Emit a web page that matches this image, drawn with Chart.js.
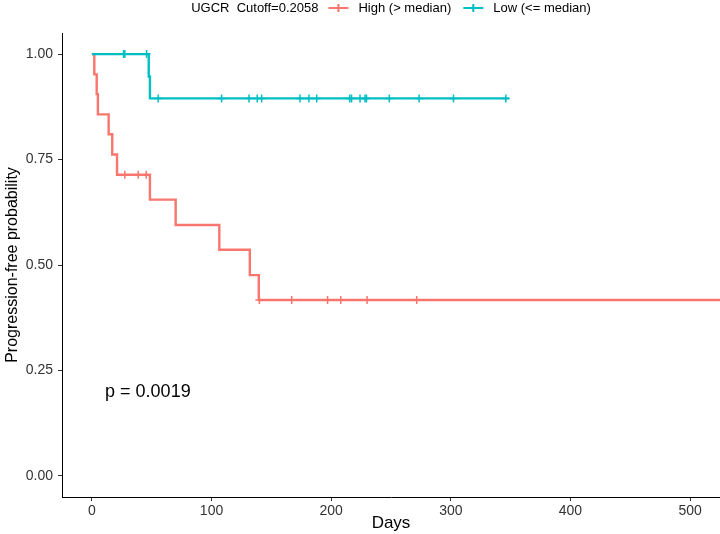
<!DOCTYPE html>
<html>
<head>
<meta charset="utf-8">
<script src="https://cdn.jsdelivr.net/npm/chart.js@4.4.0/dist/chart.umd.min.js"></script>
<style>
  html, body { margin: 0; padding: 0; background: #fff; }
  #wrap { width: 720px; height: 534px; }
</style>
</head>
<body>
<div id="wrap"><canvas id="km"></canvas></div>
<script>
// Kaplan-Meier steps (days, survival after the step)
const highTimes = [0, 2, 4, 5, 14, 17, 21, 48.5, 70, 106.5, 132, 139.5, 525];
const highSurv  = [1, 0.952, 0.905, 0.857, 0.810, 0.762, 0.714, 0.655, 0.595, 0.536, 0.476, 0.417, 0.417];
const highCensorTimes = [27.5, 38.7, 45.4, 140, 167, 197, 208, 230, 271.5];
const highCensorSurv  = [0.714, 0.714, 0.714, 0.417, 0.417, 0.417, 0.417, 0.417, 0.417];

const lowTimes = [0, 47.5, 48.5, 348.5];
const lowSurv  = [1, 0.947, 0.895, 0.895];
const lowCensorTimes = [26.5, 27.5, 45.7, 55.4, 108.4, 131.3, 138.2, 141.9, 173.9, 181.4, 187.9,
                        215.5, 217, 224.1, 228.3, 229.5, 248.6, 273.5, 302.2, 346];
const lowCensorSurv  = [1, 1, 1, 0.895, 0.895, 0.895, 0.895, 0.895, 0.895, 0.895, 0.895,
                        0.895, 0.895, 0.895, 0.895, 0.895, 0.895, 0.895, 0.895, 0.895];

const seriesNames = ['High (> median)', 'Low (<= median)'];
const seriesColors = ['#F8766D', '#00BFC4'];
const legendTitle = 'UGCR  Cutoff=0.2058';
const xTicks = [0, 100, 200, 300, 400, 500];
const yTicks = [0, 0.25, 0.5, 0.75, 1];
const pValueText = 'p = 0.0019';
const pValuePos = [11, 0.2];

const FONT = '"Liberation Sans", Arial, Helvetica, sans-serif';

const toPoints = (xs, ys) => xs.map((x, i) => ({ x: x, y: ys[i] }));

// legend row + p-value text
const extras = {
  id: 'extras',
  afterDraw(chart) {
    const ctx = chart.ctx;
    const area = chart.chartArea;
    const sx = chart.scales.x, sy = chart.scales.y;
    ctx.save();

    ctx.font = '18px ' + FONT;
    ctx.fillStyle = '#000';
    ctx.textAlign = 'left';
    ctx.textBaseline = 'middle';
    ctx.fillText(pValueText, sx.getPixelForValue(pValuePos[0]), sy.getPixelForValue(pValuePos[1]));

    ctx.font = '13px ' + FONT;
    const sym = 20, gap = 10, between = 12;
    const titleW = ctx.measureText(legendTitle).width;
    const w0 = ctx.measureText(seriesNames[0]).width;
    const w1 = ctx.measureText(seriesNames[1]).width;
    const total = titleW + gap + sym + gap + w0 + between + sym + gap + w1;
    let cx = (area.left + area.right) / 2 - total / 2;
    const ly = 8;
    ctx.fillStyle = '#000';
    ctx.fillText(legendTitle, cx, ly);
    cx += titleW + gap;
    [w0, w1].forEach((w, i) => {
      ctx.strokeStyle = seriesColors[i];
      ctx.lineWidth = 2;
      ctx.beginPath();
      ctx.moveTo(cx, ly); ctx.lineTo(cx + sym, ly);
      ctx.moveTo(cx + sym / 2, ly - 4); ctx.lineTo(cx + sym / 2, ly + 4);
      ctx.stroke();
      cx += sym + gap;
      ctx.fillStyle = '#000';
      ctx.fillText(seriesNames[i], cx, ly);
      cx += w + between;
    });
    ctx.restore();
  }
};

new Chart(document.getElementById('km'), {
  type: 'line',
  data: {
    datasets: [
      {
        label: seriesNames[1],
        data: toPoints(lowTimes, lowSurv),
        borderColor: seriesColors[1],
        borderWidth: 2.4,
        stepped: 'before',
        pointRadius: 0,
        fill: false,
        order: 1
      },
      {
        label: seriesNames[1] + ' censored',
        data: toPoints(lowCensorTimes, lowCensorSurv),
        showLine: false,
        pointStyle: 'cross',
        pointRadius: 4,
        pointBorderWidth: 1.5,
        pointBorderColor: seriesColors[1],
        order: 0
      },
      {
        label: seriesNames[0],
        data: toPoints(highTimes, highSurv),
        borderColor: seriesColors[0],
        borderWidth: 2.4,
        stepped: 'before',
        pointRadius: 0,
        fill: false,
        order: 3
      },
      {
        label: seriesNames[0] + ' censored',
        data: toPoints(highCensorTimes, highCensorSurv),
        showLine: false,
        pointStyle: 'cross',
        pointRadius: 4,
        pointBorderWidth: 1.5,
        pointBorderColor: seriesColors[0],
        order: 2
      }
    ]
  },
  options: {
    responsive: true,
    maintainAspectRatio: false,
    animation: false,
    layout: { autoPadding: false, padding: { top: 33, left: 0, right: 0, bottom: 0 } },
    plugins: {
      legend: { display: false },
      tooltip: { enabled: false }
    },
    scales: {
      x: {
        type: 'linear',
        min: -25,
        max: 525,
        afterBuildTicks: scale => { scale.ticks = xTicks.map(v => ({ value: v })); },
        afterFit: scale => { scale.height = 37; scale.paddingLeft = 0; scale.paddingRight = 0; },
        grid: { drawOnChartArea: false, drawTicks: true, tickLength: 4, color: '#333' },
        border: { display: true, color: '#000', width: 1 },
        ticks: { color: '#333', font: { family: FONT, size: 14 }, padding: 2, maxRotation: 0 },
        title: { display: true, text: 'Days', color: '#000', font: { family: FONT, size: 17 }, padding: { top: 0, bottom: 0 } }
      },
      y: {
        type: 'linear',
        min: -0.05,
        max: 1.05,
        afterBuildTicks: scale => { scale.ticks = yTicks.map(v => ({ value: v })); },
        afterFit: scale => { scale.width = 62; scale.paddingTop = 0; scale.paddingBottom = 0; },
        grid: { drawOnChartArea: false, drawTicks: true, tickLength: 4, color: '#333' },
        border: { display: true, color: '#000', width: 1 },
        ticks: { color: '#333', font: { family: FONT, size: 14 }, padding: 5, callback: v => v.toFixed(2) },
        title: { display: true, text: 'Progression-free probability', color: '#000', font: { family: FONT, size: 16 }, padding: { top: 3, bottom: 0 } }
      }
    }
  },
  plugins: [extras]
});
</script>
</body>
</html>
